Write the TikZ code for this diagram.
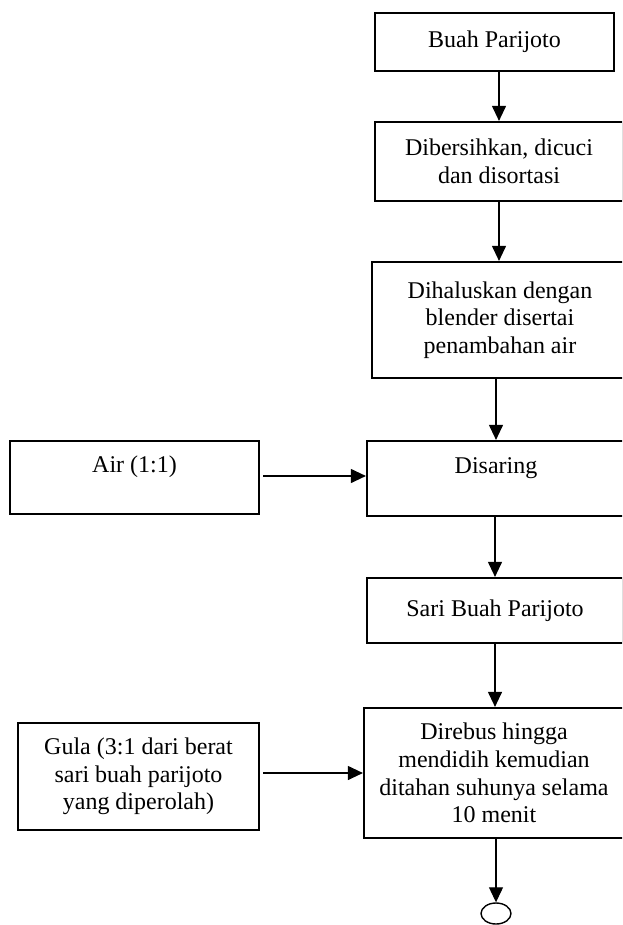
\documentclass[tikz,border=0pt]{standalone}
\usepackage{fontspec}
\setmainfont{Liberation Serif}
\usetikzlibrary{arrows.meta,shapes.geometric}
\begin{document}
\begin{tikzpicture}[x=1pt,y=1pt,
  font=\fontsize{24}{27.6}\selectfont,
  boxnode/.style={draw,line width=2.2pt,rectangle,inner sep=0pt,align=center},
  arr/.style={draw,line width=1.1pt,-{Triangle[length=15pt,width=14pt]}},
  endnode/.style={draw,line width=1.4pt,ellipse,inner sep=0pt,minimum width=30pt,minimum height=21pt}]
\useasboundingbox (0,0) rectangle (622,-925);
\clip (0,0) rectangle (622,-925);
\node[boxnode,minimum width=239pt,minimum height=58pt] (b1) at (494.5,-42) {Buah Parijoto};
\node[boxnode,minimum width=248pt,minimum height=79pt] (b2) at (499,-161.5) {Dibersihkan, dicuci\\dan disortasi};
\node[boxnode,minimum width=256pt,minimum height=116pt] (b3) at (500,-320) {Dihaluskan dengan\\blender disertai\\penambahan air};
\node[boxnode,minimum width=249pt,minimum height=73pt,text depth=26pt] (air) at (134.5,-477.5) {Air (1:1)};
\node[boxnode,minimum width=258pt,minimum height=75pt,text depth=26pt] (dis) at (496,-478.5) {Disaring};
\node[boxnode,minimum width=256pt,minimum height=65pt] (sari) at (495,-610.5) {Sari Buah Parijoto};
\node[boxnode,minimum width=241pt,minimum height=107pt] (gula) at (138.5,-776.5) {Gula (3:1 dari berat\\sari buah parijoto\\yang diperolah)};
\node[boxnode,minimum width=260pt,minimum height=130pt] (dir) at (494,-773) {Direbus hingga\\mendidih kemudian\\ditahan suhunya selama\\10 menit};
\node[endnode] (end) at (496,-913.5) {};
\draw[arr] (b1.south -| b2.center) -- (b2.north);
\draw[arr] (b2.south) -- (b2.south |- b3.north);
\draw[arr] (b3.south -| dis.center) -- (dis.north);
\draw[arr] ([xshift=3pt]air.east |- 0,-476) -- (dis.west |- 0,-476);
\draw[arr] (dis.south -| sari.center) -- (sari.north);
\draw[arr] (sari.south) -- (sari.south |- dir.north);
\draw[arr] ([xshift=3pt]gula.east |- dir.west) -- (dir.west);
\draw[arr] (dir.south -| end.north) -- (end.north);
\end{tikzpicture}
\end{document}
